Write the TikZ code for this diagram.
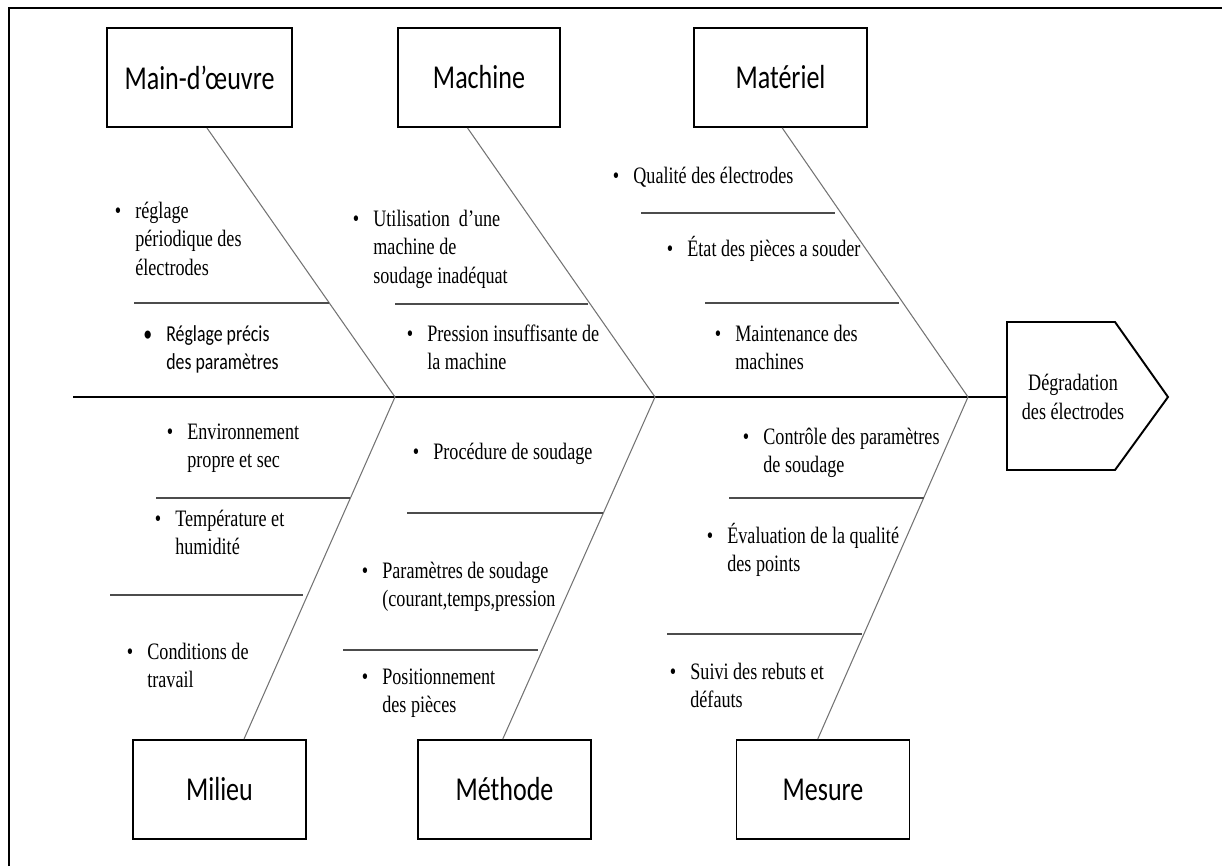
\documentclass[tikz,border=0pt]{standalone}
\usepackage{fontspec}
\setmainfont{Liberation Serif}[FakeStretch=0.77]
\newfontfamily\calibri{Carlito}[FakeStretch=0.78]
\usetikzlibrary{calc}

\newcommand{\puce}[1]{\llap{\textbullet\hspace{8pt}}\begin{tabular}[t]{@{}l@{}}#1\end{tabular}}

\begin{document}
\begin{tikzpicture}[
  x=0.02cm,
  y=-0.02cm,
  font=\fontsize{13.4}{16.4}\selectfont,
  cat/.style={draw, line width=1.1pt, minimum height=1.98cm, minimum width=3.46cm, inner sep=0pt, font=\calibri\fontsize{19}{22}\selectfont},
  cause/.style={anchor=base west, inner sep=0pt},
  bone/.style={draw=black!55, line width=0.6pt},
  rib/.style={draw=black!70, line width=0.7pt},
  spine/.style={line width=1.6pt}
]

\useasboundingbox (0,0) rectangle (1222,866);
\draw[line width=1.6pt] (9,866) -- (9,8) -- (1222,8);

\node[cat, minimum width=3.7cm] (mo) at (199.5,77.5) {Main-d’œuvre};
\node[cat, minimum width=3.24cm] (ma) at (479,77.5) {Machine};
\node[cat] (mt) at (780.5,77.5) {Matériel};

\node[cat] (mi) at (219.5,789.5) {Milieu};
\node[cat] (me) at (504.5,789.5) {Méthode};
\node[cat] (mu) at (823,789.5) {Mesure};

\coordinate (queue) at (73,397);
\coordinate (tete) at (1007,397);
\coordinate (j1) at (395,397);
\coordinate (j2) at (655,397);
\coordinate (j3) at (968,397);

\draw[line width=1.1pt] (1007,322) -- (1115,322) -- (1168,397) -- (1115,470) -- (1007,470) -- cycle;
\node[align=center, inner sep=0pt] (effet) at (1073,397) {Dégradation\\des électrodes};
\draw[spine] (queue) -- (tete);

\draw[bone] ($(mo.south west)!0.54!(mo.south east)$) -- (j1);
\draw[bone] ($(ma.south west)!0.43!(ma.south east)$) -- (j2);
\draw[bone] ($(mt.south west)!0.51!(mt.south east)$) -- (j3);
\draw[bone] ($(mi.north west)!0.64!(mi.north east)$) -- (j1);
\draw[bone] ($(me.north west)!0.49!(me.north east)$) -- (j2);
\draw[bone] ($(mu.north west)!0.47!(mu.north east)$) -- (j3);

% separations entre les causes
\draw[rib] (134,303) -- (329,303);
\draw[rib] (395,304) -- (588,304);
\draw[rib] (641,213) -- (835,213);
\draw[rib] (705,303) -- (899,303);
\draw[rib] (156,498) -- (350,498);
\draw[rib] (110,595) -- (303,595);
\draw[rib] (407,513) -- (603,513);
\draw[rib] (343,650) -- (538,650);
\draw[rib] (729,498) -- (924,498);
\draw[rib] (667,634) -- (862,634);

\node[cause] (c1) at (135,218) {\puce{réglage\\périodique des\\électrodes}};
\node[cause, font=\calibri\fontsize{13}{16.4}\selectfont] (c2) at (166,341) {\puce{Réglage précis\\des paramètres}};
\node[cause] (c3) at (373,226) {\puce{Utilisation\ \ d’une\\machine de\\soudage inadéquat}};
\node[cause] (c4) at (427,341) {\puce{Pression insuffisante de\\la machine}};
\node[cause] (c5) at (633,183) {\puce{Qualité des électrodes}};
\node[cause] (c6) at (687,256) {\puce{État des pièces a souder}};
\node[cause] (c7) at (735,341) {\puce{Maintenance des\\machines}};

\node[cause] (c8) at (187,439) {\puce{Environnement\\propre et sec}};
\node[cause] (c9) at (175,526) {\puce{Température et\\humidité}};
\node[cause] (c10) at (147,659) {\puce{Conditions de\\travail}};
\node[cause] (c11) at (433,459) {\puce{Procédure de soudage}};
\node[cause] (c12) at (382,578) {\puce{Paramètres de soudage\\(courant,temps,pression}};
\node[cause] (c13) at (382,684) {\puce{Positionnement\\des pièces}};
\node[cause] (c14) at (763,444) {\puce{Contrôle des paramètres\\de soudage}};
\node[cause] (c15) at (727,543) {\puce{Évaluation de la qualité\\des points}};
\node[cause] (c16) at (690,679) {\puce{Suivi des rebuts et\\défauts}};

\end{tikzpicture}
\end{document}
